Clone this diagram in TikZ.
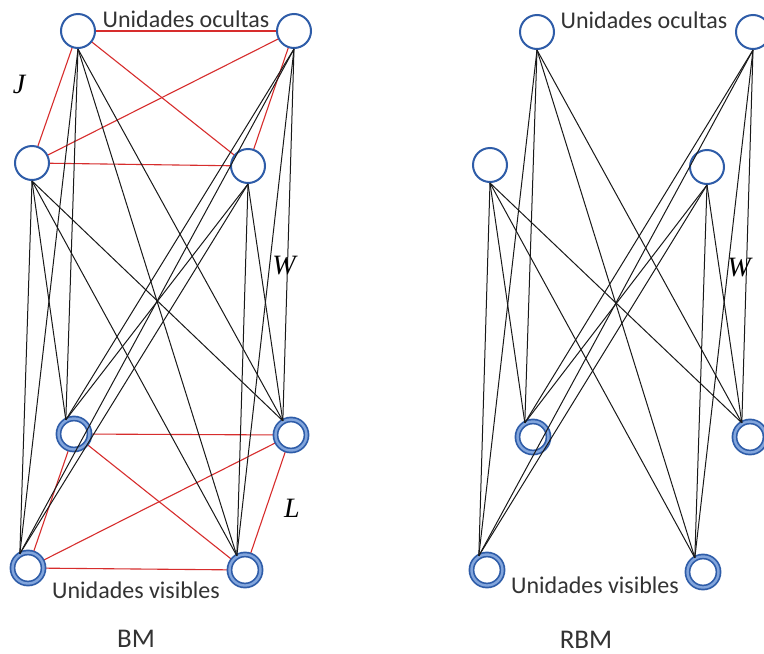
\documentclass[tikz,border=0pt]{standalone}
\usepackage{fontspec}
\setmainfont{Carlito}
\newfontfamily\symfont{Liberation Serif}
\definecolor{nodeblue}{RGB}{46,92,168}
\definecolor{lightblue}{RGB}{130,165,220}
\definecolor{edgered}{RGB}{215,45,45}
\tikzset{
  hid/.style={circle, draw=nodeblue, line width=2pt, fill=white, minimum size=34pt, inner sep=0pt},
  vis/.style={circle, draw=nodeblue, double=lightblue, double distance=2.4pt, line width=1.7pt, fill=white, minimum size=31pt, inner sep=0pt},
  wedge/.style={black!90, line width=1pt},
  jedge/.style={edgered, line width=1.1pt},
  lbl/.style={font=\fontsize{24}{26}\selectfont, text=black!80, inner sep=0pt, anchor=base},
  title/.style={font=\fontsize{27}{29}\selectfont, text=black!80, inner sep=0pt, anchor=base},
  sym/.style={font=\symfont\itshape\fontsize{28}{30}\selectfont, inner sep=0pt}
}
\begin{document}
\begin{tikzpicture}[x=1pt,y=-1pt]
\useasboundingbox (0,0) rectangle (764,654);
\fill[white] (0,0) rectangle (764,654);
% ---------- BM ----------
\coordinate (bh1) at (78,31);
\coordinate (bh2) at (294,31);
\coordinate (bh3) at (32,163);
\coordinate (bh4) at (248,166);
\coordinate (bv1) at (74,434);
\coordinate (bv2) at (291,435);
\coordinate (bv3) at (28,568);
\coordinate (bv4) at (245,570);
% red J edges
\foreach \a/\b in {bh1/bh2,bh1/bh3,bh1/bh4,bh2/bh3,bh2/bh4,bh3/bh4}
  \draw[jedge] (\a) -- (\b);
% red L edges
\foreach \a/\b in {bv1/bv2,bv1/bv3,bv1/bv4,bv2/bv3,bv2/bv4,bv3/bv4}
  \draw[jedge] (\a) -- (\b);
% nodes
\node[hid] (BH1) at (bh1) {};
\node[hid] (BH2) at (bh2) {};
\node[hid] (BH3) at (bh3) {};
\node[hid] (BH4) at (bh4) {};
\node[vis] (BV1) at (bv1) {};
\node[vis] (BV2) at (bv2) {};
\node[vis] (BV3) at (bv3) {};
\node[vis] (BV4) at (bv4) {};
% black W edges
\foreach \h in {BH1,BH2,BH3,BH4}
  \foreach \v in {BV1,BV2,BV3,BV4}
    \draw[wedge] (\h.south) -- (\v.120);
% labels
\node[lbl] (bocl) at (186,27) {Unidades ocultas};
\node[lbl] (bvis) at (136,598) {Unidades visibles};
\node[title] (bm) at (136,647) {BM};
\node[sym] (jl) at (19,84) {J};
\node[sym] (wl) at (284,266) {W};
\node[sym] (ll) at (292,508) {L};
% ---------- RBM ----------
\node[hid] (RH1) at (537,32) {};
\node[hid] (RH2) at (753,32) {};
\node[hid] (RH3) at (490,165) {};
\node[hid] (RH4) at (707,167) {};
\node[vis] (RV1) at (533,437) {};
\node[vis] (RV2) at (750,437) {};
\node[vis] (RV3) at (487,570) {};
\node[vis] (RV4) at (703,572) {};
\foreach \h in {RH1,RH2,RH3,RH4}
  \foreach \v in {RV1,RV2,RV3,RV4}
    \draw[wedge] (\h.south) -- (\v.120);
\node[lbl] (rocl) at (644,28) {Unidades ocultas};
\node[lbl] (rvis) at (595,593) {Unidades visibles};
\node[title] (rbm) at (586,648) {RBM};
\node[sym] (wr) at (739,268) {W};
\end{tikzpicture}
\end{document}
